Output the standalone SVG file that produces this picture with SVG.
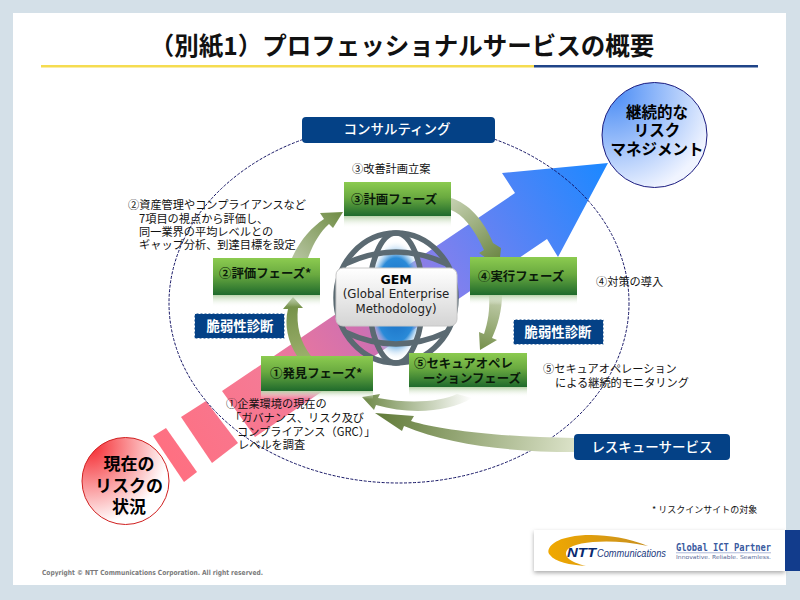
<svg xmlns="http://www.w3.org/2000/svg" width="800" height="600" viewBox="0 0 800 600">
<style>
text{font-family:"Noto Sans CJK JP","Liberation Sans",sans-serif;fill:#111}
.t{font-size:11.2px}
.n{font-size:12.4px;font-weight:700;fill:#0a1a0a}
.b{font-size:13.5px;font-weight:500;fill:#fff;text-anchor:middle}
.v{font-size:13.4px;font-weight:700;fill:#fff;text-anchor:middle}
.c{font-size:15.500px;font-weight:700;fill:#000;text-anchor:middle}
.g{font-family:"DejaVu Sans",sans-serif;font-size:11.800px;text-anchor:middle;fill:#222}
.box{fill:url(#gN);stroke:none}
.ref{fill:url(#gR)}
.btn{fill:#044186}
.dash{fill:#044186;stroke:#fff;stroke-width:1;stroke-dasharray:2 2}
.lat{fill:none;stroke:#5b6a72;stroke-width:5.500}
</style>
<defs>
<linearGradient id="gN" x1="0" y1="0" x2="0" y2="1"><stop offset="0" stop-color="#8ccb50"/><stop offset=".45" stop-color="#6aaa40"/><stop offset="1" stop-color="#1f6a2c"/></linearGradient>
<linearGradient id="gR" x1="0" y1="0" x2="0" y2="1"><stop offset="0" stop-color="#b9d3aa"/><stop offset="1" stop-color="#fff" stop-opacity="0"/></linearGradient>
<linearGradient id="gA" gradientUnits="userSpaceOnUse" x1="160" y1="460" x2="600" y2="170"><stop offset="0" stop-color="#ff6f80"/><stop offset=".25" stop-color="#f57a95"/><stop offset=".45" stop-color="#d070b0"/><stop offset=".65" stop-color="#8080ee"/><stop offset="1" stop-color="#2088ff"/></linearGradient>
<radialGradient id="gBlue" cx=".1" cy=".1" r="1"><stop offset="0" stop-color="#4a8cf5"/><stop offset="1" stop-color="#f0f4ff"/></radialGradient>
<radialGradient id="gRed" cx=".1" cy=".1" r="1"><stop offset="0" stop-color="#f52a30"/><stop offset=".9" stop-color="#fff"/></radialGradient>
<linearGradient id="gG" x1="0" y1="0" x2="0" y2="1"><stop offset="0" stop-color="#fff"/><stop offset="1" stop-color="#d4d4d4"/></linearGradient>
<radialGradient id="gGlobe"><stop offset="0" stop-color="#0f5fb8"/><stop offset=".7" stop-color="#2a8ad8"/><stop offset="1" stop-color="#fff" stop-opacity="0"/></radialGradient>
<linearGradient id="a1" gradientUnits="userSpaceOnUse" x1="298" y1="258" x2="343" y2="212"><stop offset="0" stop-color="#b3c29c"/><stop offset="1" stop-color="#6f8c44"/></linearGradient>
<linearGradient id="a2" gradientUnits="userSpaceOnUse" x1="451" y1="200" x2="498" y2="262"><stop offset="0" stop-color="#c5d0b0"/><stop offset="1" stop-color="#6a8542"/></linearGradient>
<linearGradient id="a3" gradientUnits="userSpaceOnUse" x1="496" y1="295" x2="482" y2="350"><stop offset="0" stop-color="#c5d0b0"/><stop offset="1" stop-color="#76904c"/></linearGradient>
<linearGradient id="a4" gradientUnits="userSpaceOnUse" x1="362" y1="400" x2="472" y2="400"><stop offset="0" stop-color="#6d8846"/><stop offset="1" stop-color="#fff"/></linearGradient>
<linearGradient id="a5" gradientUnits="userSpaceOnUse" x1="375" y1="415" x2="574" y2="445"><stop offset="0" stop-color="#607a38"/><stop offset="1" stop-color="#dbe2c8"/></linearGradient>
<linearGradient id="a6" gradientUnits="userSpaceOnUse" x1="293" y1="297" x2="305" y2="356"><stop offset="0" stop-color="#6f8d44"/><stop offset="1" stop-color="#9aae6a"/></linearGradient>
<linearGradient id="gSw" x1="0" y1="0" x2="1" y2="0"><stop offset="0" stop-color="#f0a800"/><stop offset="1" stop-color="#c89020"/></linearGradient>
<filter id="sh" x="-5%" y="-20%" width="110%" height="150%"><feDropShadow dx="0" dy="2" stdDeviation="2" flood-color="#888" flood-opacity=".7"/></filter>
</defs>

<rect width="800" height="600" fill="#d4e0e8"/>
<rect x="13" y="13" width="773" height="572" fill="#fff"/>
<text x="402" y="55" text-anchor="middle" style="font-size:24.500px;font-weight:700" fill="#000">（別紙1）プロフェッショナルサービスの概要</text>
<rect x="41" y="65" width="493" height="2.500" fill="#f5dc50"/>
<rect x="534" y="65" width="224" height="2.500" fill="#1f4488"/>

<g id="big-arrow">
<polygon points="153,436 166,428 197,472 184,482" fill="url(#gA)"/>
<polygon points="181,417 206,401 238,443 212,463" fill="url(#gA)"/>
<polygon points="222,391 515,193 502,173 608,163 558,257 547,239 255,437" fill="url(#gA)"/>
</g>
<ellipse id="scope" cx="399" cy="303" rx="230" ry="180" fill="none" stroke="#141464" stroke-width="1" stroke-dasharray="3 1.5"/>

<g id="globe">
<ellipse cx="396" cy="300" rx="30" ry="60" fill="url(#gGlobe)"/>
<ellipse cx="396" cy="298" rx="60" ry="65" class="lat"/>
<ellipse cx="396" cy="298" rx="27" ry="65" class="lat"/>
<path d="M345 264Q396 240 447 264M345 332Q396 356 447 332" class="lat"/>
<rect x="336" y="268" width="121" height="58" rx="7" fill="url(#gG)" stroke="#c8c8c8"/>
<text class="g" text-anchor="middle"><tspan x="396" y="284" style="font-weight:700;font-size:12.500px;fill:#000">GEM</tspan><tspan x="396" y="298">(Global Enterprise</tspan><tspan x="396" y="313">Methodology)</tspan></text>
</g>

<g id="connectors">
<path d="M292 258C300 240 312 227 324 219L320 213L343 212L333 228L329 224C320 232 313 244 308 258Z" fill="url(#a1)"/>
<path d="M451 198C468 203 484 220 493 243L501 248L499 267L479 253L484 250C474 228 462 214 451 210Z" fill="url(#a2)"/>
<path d="M489 295C490 310 488 322 484 334L479 332L480 350L497 340L492 338C498 325 502 310 502 295Z" fill="url(#a3)"/>
<path d="M362 397L380 394L378 398C410 404 440 402 457 394L472 398C450 412 410 415 376 405L374 410Z" fill="url(#a4)"/>
<path d="M375 413L414 416L411 421C440 430 500 437 574 438L574 452C510 452 450 445 404 426L402 431Z" fill="url(#a5)"/>
<path d="M293 297L303 308L298 308C296 325 300 342 311 356L297 356C288 342 284 325 288 309L283 309Z" fill="url(#a6)"/>
</g>

<g id="phase3"><rect x="344" y="216" width="107" height="12" class="ref"/><rect x="344" y="182" width="107" height="34" class="box"/><text x="351" y="204" class="n">③計画フェーズ</text></g>
<g id="phase4"><rect x="470" y="295" width="107" height="10" class="ref"/><rect x="470" y="257" width="107" height="38" class="box"/><text x="478" y="281" class="n">④実行フェーズ</text></g>
<g id="phase2"><rect x="213" y="295" width="107" height="12" class="ref"/><rect x="213" y="258" width="107" height="37" class="box"/><text x="219" y="278" class="n">②評価フェーズ*</text></g>
<g id="phase1"><rect x="261" y="391" width="112" height="8" class="ref"/><rect x="261" y="356" width="112" height="35" class="box"/><text x="270" y="378" class="n">①発見フェーズ*</text></g>
<g id="phase5"><rect x="409" y="387" width="118" height="10" class="ref"/><rect x="409" y="353" width="118" height="34" class="box"/><text class="n"><tspan x="414" y="368">⑤セキュアオペレ</tspan><tspan x="423" y="383">ーションフェーズ</tspan></text></g>

<g id="consulting"><rect x="302" y="117" width="193" height="26" rx="4" class="btn"/><text x="397" y="134" class="b">コンサルティング</text></g>
<g id="rescue"><rect x="574" y="434" width="156" height="26" rx="4" class="btn"/><text x="652" y="452" class="b">レスキューサービス</text></g>
<g id="vuln-left"><rect x="194.500" y="313.500" width="90" height="25" class="dash"/><text x="240" y="331" class="v">脆弱性診断</text></g>
<g id="vuln-right"><rect x="513.500" y="319.500" width="90" height="25" class="dash"/><text x="558" y="337" class="v">脆弱性診断</text></g>

<g id="goal"><circle cx="654.500" cy="135" r="52.500" fill="url(#gBlue)" stroke="#1c1c80"/><text class="c"><tspan x="657" y="118">継続的な</tspan><tspan x="657" y="136">リスク</tspan><tspan x="657" y="155">マネジメント</tspan></text></g>
<g id="current"><circle cx="125.500" cy="481" r="43.500" fill="url(#gRed)" stroke="#d02020"/><text class="c" style="font-size:17px"><tspan x="129" y="470">現在の</tspan><tspan x="129" y="492">リスクの</tspan><tspan x="129" y="513">状況</tspan></text></g>

<text x="352" y="173" class="t">③改善計画立案</text>
<text class="t"><tspan x="128" y="209">②資産管理やコンプライアンスなど</tspan><tspan x="139" y="223">7項目の視点から評価し、</tspan><tspan x="139" y="236">同一業界の平均レベルとの</tspan><tspan x="139" y="249">ギャップ分析、到達目標を設定</tspan></text>
<text x="596" y="286" class="t">④対策の導入</text>
<text class="t"><tspan x="543" y="373">⑤セキュアオペレーション</tspan><tspan x="555" y="387">による継続的モニタリング</tspan></text>
<text class="t"><tspan x="226" y="408">①企業環境の現在の</tspan><tspan x="230" y="422">「ガバナンス、リスク及び</tspan><tspan x="237" y="436">コンプライアンス（GRC）」</tspan><tspan x="238" y="449">レベルを調査</tspan></text>
<text x="652" y="513" style="font-size:9px">* リスクインサイトの対象</text>

<text x="42" y="575" textLength="221" lengthAdjust="spacingAndGlyphs" style="font-family:'DejaVu Sans',sans-serif;font-size:7px;font-weight:700;fill:#7a7a7a">Copyright © NTT Communications Corporation. All right reserved.</text>

<g id="logo">
<rect x="534" y="530" width="251" height="41" fill="#fff" filter="url(#sh)"/>
<rect x="785" y="530" width="15" height="41" fill="#123c8c"/>
<path d="M648 546C620 535 590 533 570 537C552 540 545 550 550 555C555 562 570 565 586 566C570 562 562 556 568 549C575 542 610 538 648 546Z" fill="url(#gSw)"/>
<text x="567" y="557" textLength="29" lengthAdjust="spacingAndGlyphs" style="font-family:'Liberation Sans',sans-serif;font-size:13px;font-weight:700;font-style:italic;fill:#0a2a70">NTT</text>
<text x="597" y="557" textLength="69" lengthAdjust="spacingAndGlyphs" style="font-family:'Liberation Sans',sans-serif;font-size:10px;font-style:italic;fill:#1a3a80">Communications</text>
<text x="676" y="551" textLength="95" lengthAdjust="spacingAndGlyphs" style="font-family:'DejaVu Sans Mono',monospace;font-size:10px;font-weight:700;fill:#3a5aa0">Global ICT Partner</text>
<rect x="676" y="552.500" width="95" height=".7" fill="#8a9ac8"/>
<text x="676" y="559" textLength="95" lengthAdjust="spacingAndGlyphs" style="font-family:'DejaVu Sans',sans-serif;font-size:5.500px;fill:#5a6a98">Innovative. Reliable. Seamless.</text>
</g>
</svg>
